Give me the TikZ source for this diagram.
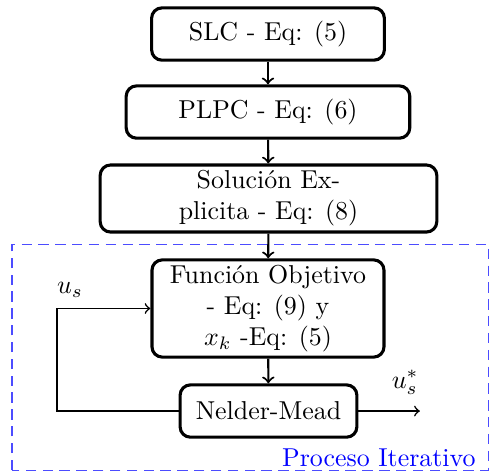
\documentclass[tikz,border=0pt]{standalone}
\usepackage{amssymb}
\usepackage{tikz}
\usetikzlibrary{shapes,arrows,positioning,fit}

\begin{document}
\begin{tikzpicture}
				\tikzstyle{Block}	= [draw, very thick, rounded corners=4pt, align=center, inner sep=2pt]
				\tikzstyle{Flow}	= [->, thick]
				\tikzstyle{Loop}	= [->, semithick]
				\tikzstyle{Region}	= [draw=blue!70, dash pattern=on 4pt off 2.5pt]
				
				\useasboundingbox (0,0) rectangle (6.679,6.435);
				
				\node (slc) at (3.638,5.973) [Block, minimum width=3.16cm, minimum height=0.71cm] {SLC - Eq: (5)};
				\node (plpc) at (3.638,4.914) [Block, minimum width=3.85cm, minimum height=0.71cm] {PLPC - Eq: (6)};
				\node (sol) at (3.645,3.740) [Block, minimum width=4.57cm, minimum height=0.91cm] {Soluci\'on Ex-\\plicita - Eq: (8)};
				\node (obj) at (3.638,2.247) [Block, minimum width=3.15cm, minimum height=1.32cm] {Funci\'on Objetivo\\- Eq: (9) y\\$x_k$ -Eq: (5)};
				\node (nm) at (3.645,0.855) [Block, minimum width=2.40cm, minimum height=0.71cm] {Nelder-Mead};
				
				\coordinate (c1) at (0.774,0.855);
				\coordinate (c2) at (0.774,2.247);
				\coordinate (out) at (5.70,0.855);
				
				\node (us) at (0.95,2.50) {$u_s$};
				\node (uss) at (5.50,1.24) {$u_s^*$};
				\node (iter) [anchor=east, text=blue] at (6.58,0.215) {Proceso Iterativo};
				
				\draw [Region] (0.163,0.054) rectangle (6.625,3.122);
				
				\draw [Flow] (slc) to (plpc);
				\draw [Flow] (plpc) to (sol);
				\draw [Flow] (sol) to (obj);
				\draw [Flow] (obj) to (nm);
				\draw [Loop] (nm.west) -- (c1) -- (c2) -- (obj.west);
				\draw [Loop] (nm.east) -- (out);
\end{tikzpicture}
\end{document}
